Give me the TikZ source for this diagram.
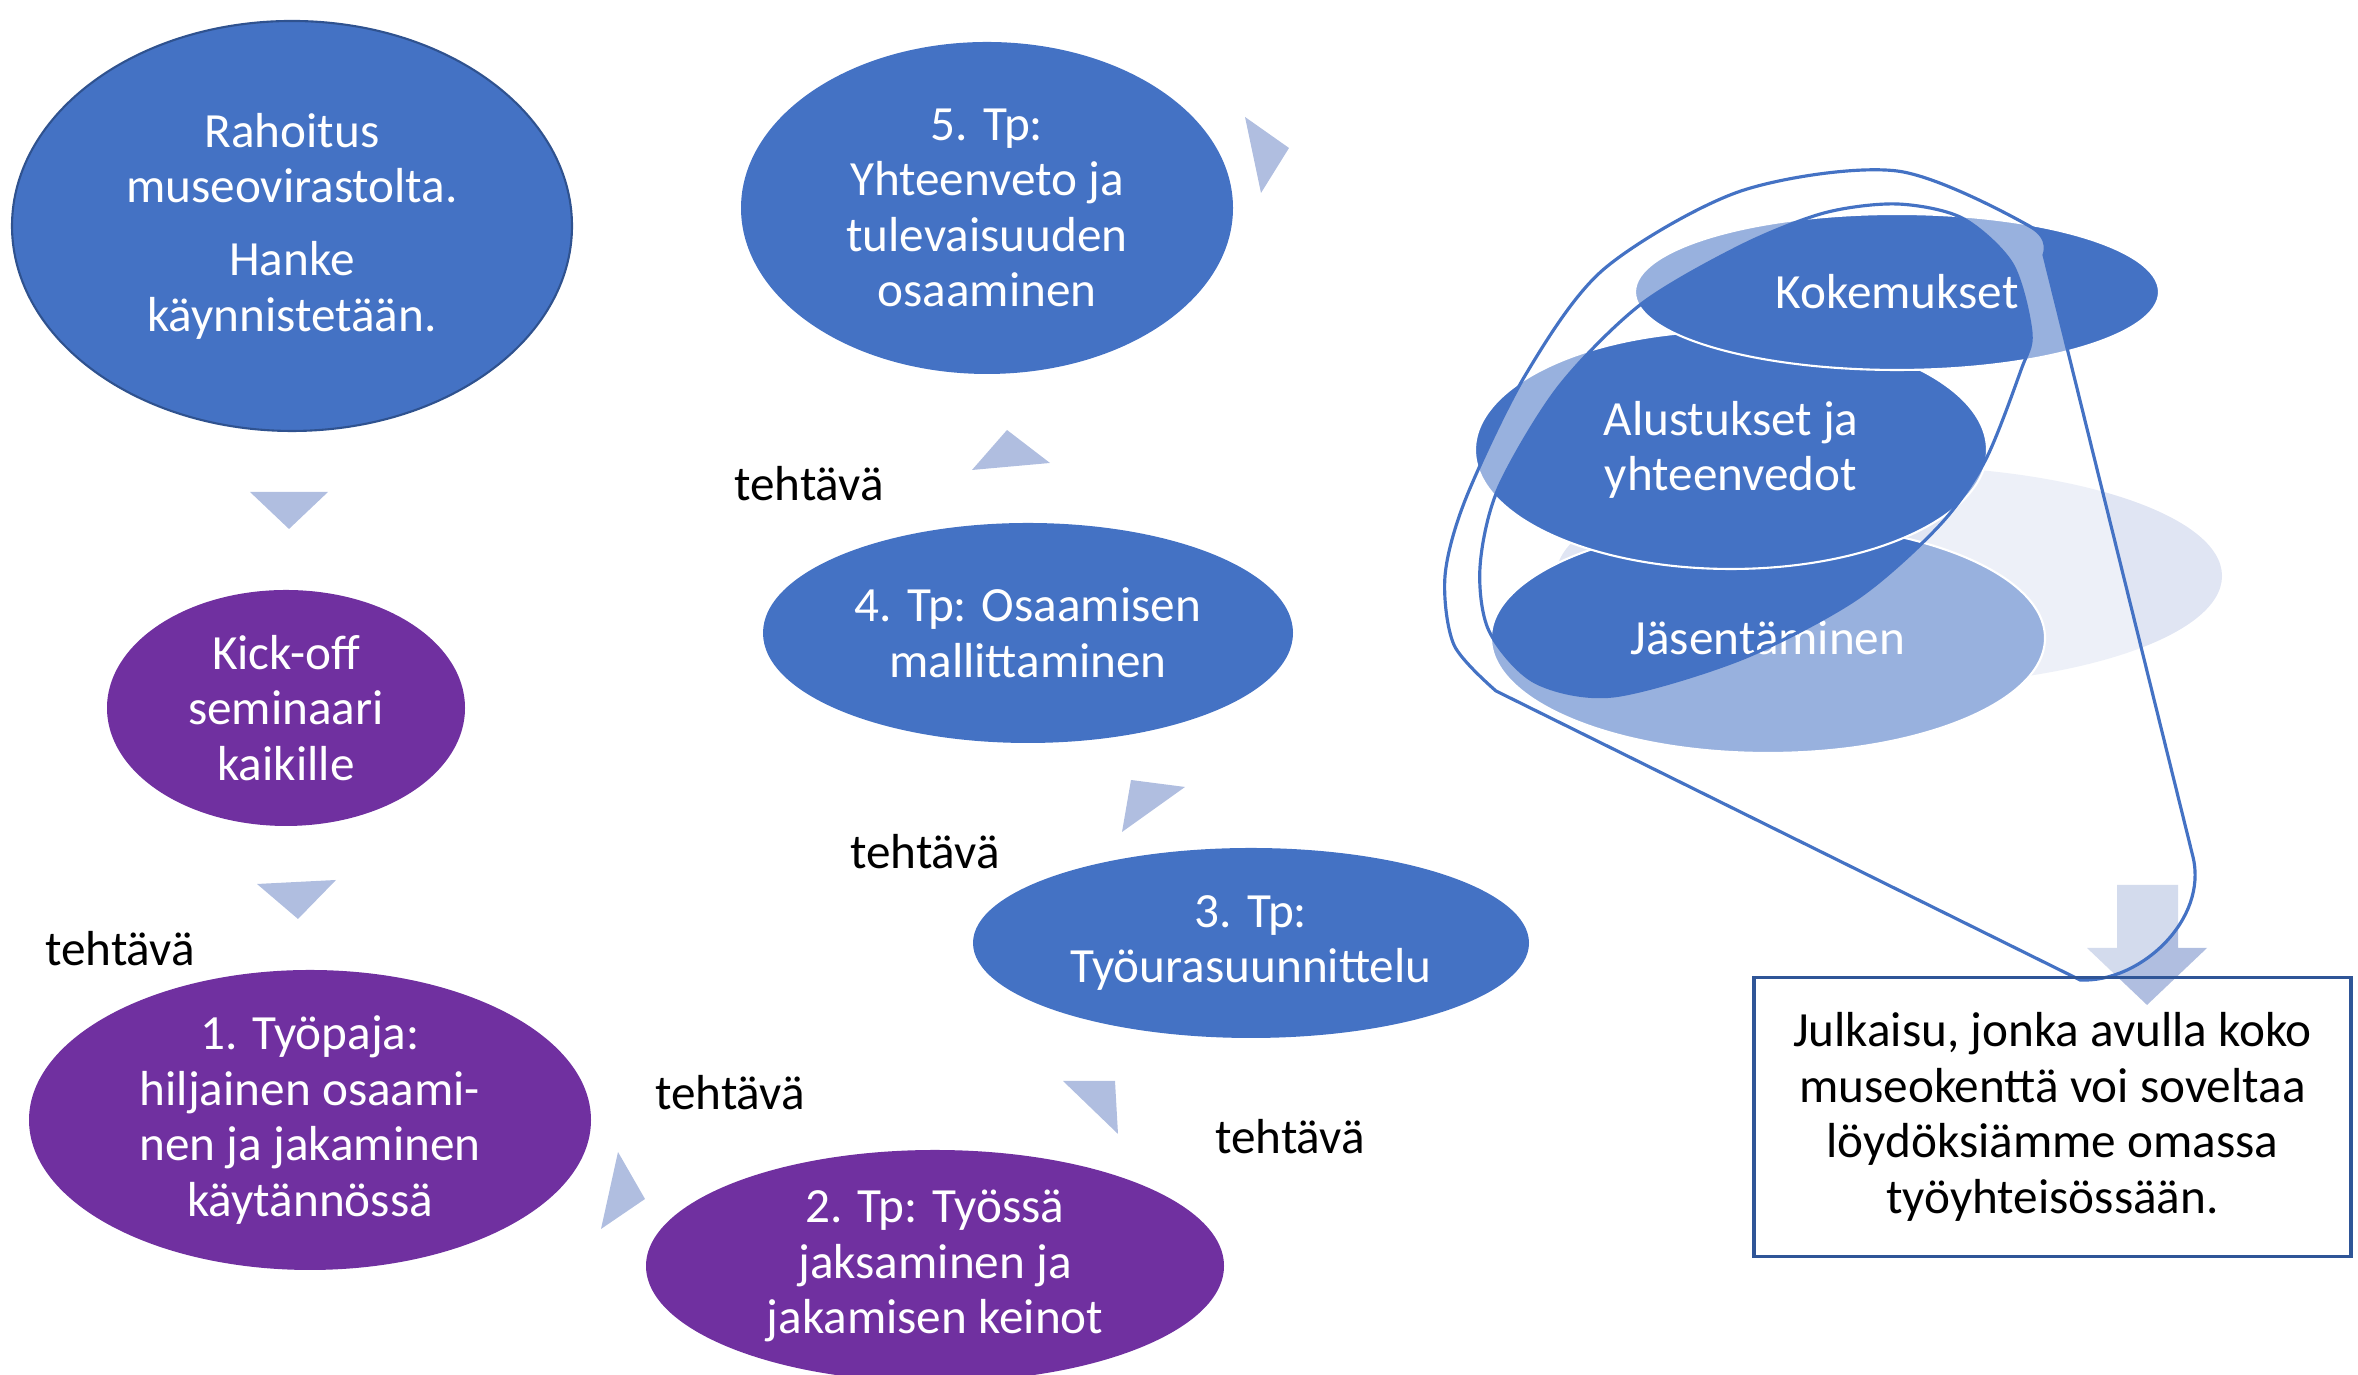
\documentclass[tikz,border=0pt]{standalone}
\usepackage{fontspec}
\setmainfont{Carlito}
\usetikzlibrary{shapes.geometric}
\definecolor{ovalblue}{HTML}{4472C4}
\definecolor{ovalpurple}{HTML}{7030A0}
\definecolor{rimblue}{HTML}{2F528F}
\definecolor{boxblue}{HTML}{2F5597}
\definecolor{trifill}{RGB}{176,190,224}
\definecolor{palefill}{RGB}{224,229,243}
\tikzset{
  every node/.style={
    font=\fontsize{14}{15.8}\selectfont,
    align=center,
    inner sep=0pt
  },
  bluebub/.style={ellipse, fill=ovalblue, text=white},
  purplebub/.style={ellipse, fill=ovalpurple, text=white},
  stackbub/.style={ellipse, fill=ovalblue, draw=white, line width=0.6pt, text=white},
  pointer/.style={fill=trifill},
  tasklbl/.style={text=black}
}

\begin{document}
\begin{tikzpicture}
    \useasboundingbox (0,0) rectangle (23.58,13.75);

    % vaiheet
    \node[bluebub, draw=rimblue, line width=0.6pt, minimum width=5.6cm, minimum height=4.1cm] (fund) at (2.92,11.49) {Rahoitus\\museovirastolta.\\[5pt]Hanke\\käynnistetään.};
    \node[purplebub, minimum width=3.58cm, minimum height=2.36cm] (kick) at (2.86,6.67) {Kick-off\\seminaari\\kaikille};
    \node[purplebub, minimum width=5.62cm, minimum height=3.0cm] (ts1) at (3.10,2.55) {1. Työpaja:\\hiljainen osaami-\\nen ja jakaminen\\käytännössä};
    \node[purplebub, minimum width=5.78cm, minimum height=2.32cm] (ts2) at (9.35,1.09) {2. Tp: Työssä\\jaksaminen ja\\jakamisen keinot};
    \node[bluebub, minimum width=5.56cm, minimum height=1.9cm] (ts3) at (12.51,4.32) {3. Tp:\\Työurasuunnittelu};
    \node[bluebub, minimum width=5.3cm, minimum height=2.2cm] (ts4) at (10.28,7.42) {4. Tp: Osaamisen\\mallittaminen};
    \node[bluebub, minimum width=4.92cm, minimum height=3.32cm] (ts5) at (9.87,11.67) {5. Tp:\\Yhteenveto ja\\tulevaisuuden\\osaaminen};

    % nuolet
    \fill[pointer] (2.50,8.83) -- (3.28,8.83) -- (2.89,8.46) -- cycle;
    \fill[pointer] (2.57,4.91) -- (3.36,4.95) -- (2.98,4.56) -- cycle;
    \fill[pointer] (6.18,2.23) -- (6.45,1.76) -- (6.01,1.46) -- cycle;
    \fill[pointer] (10.63,2.94) -- (11.15,2.94) -- (11.18,2.41) -- cycle;
    \fill[pointer] (11.31,5.95) -- (11.85,5.88) -- (11.22,5.43) -- cycle;
    \fill[pointer] (10.07,9.45) -- (10.50,9.12) -- (9.72,9.05) -- cycle;
    \fill[pointer] (12.45,12.58) -- (12.89,12.27) -- (12.61,11.82) -- cycle;

    % tehtävät
    \node[tasklbl] (task1) at (1.20,4.26) {tehtävä};
    \node[tasklbl] (task2) at (7.30,2.82) {tehtävä};
    \node[tasklbl] (task3) at (12.90,2.38) {tehtävä};
    \node[tasklbl] (task4) at (9.25,5.23) {tehtävä};
    \node[tasklbl] (task5) at (8.09,8.91) {tehtävä};

    % oikea puoli
    \node[ellipse, fill=palefill, minimum width=6.66cm, minimum height=2.2cm] (shade) at (18.89,7.99) {};
    \node[stackbub, minimum width=5.54cm, minimum height=2.3cm] (jase) at (17.68,7.37) {Jäsentäminen};
    \node[stackbub, minimum width=5.12cm, minimum height=2.38cm] (alus) at (17.31,9.25) {Alustukset ja\\yhteenvedot};
    \node[stackbub, minimum width=5.24cm, minimum height=1.56cm] (koke) at (18.97,10.83) {Kokemukset};

    \fill[trifill] (21.17,4.90) -- (21.78,4.90) -- (21.78,4.27) -- (22.07,4.27)
        -- (21.47,3.70) -- (20.87,4.27) -- (21.17,4.27) -- cycle;

    % silmukka
    \path[fill=white, fill opacity=0.45, even odd rule, draw=ovalblue, line width=0.9pt]
        (20.70,4.00) -- plot[smooth] coordinates {(14.96,6.84) (14.54,7.30) (14.45,7.99)
            (14.66,8.77) (15.26,10.01) (16.04,11.06) (17.41,11.84) (18.97,12.04)
            (20.31,11.48) (20.44,11.20)}
        -- (21.93,5.18) .. controls (22.08,4.55) and (21.40,3.92) .. (20.80,3.95) -- cycle
        plot[smooth cycle] coordinates {(18.97,11.71) (19.62,11.57) (20.12,11.11)
            (20.31,10.42) (20.21,10.05) (19.85,9.14) (19.39,8.49) (18.56,7.76)
            (17.41,7.16) (16.13,6.79) (15.35,6.93) (14.89,7.44) (14.80,8.08)
            (14.98,8.86) (15.58,9.87) (16.40,10.70) (17.41,11.29) (18.24,11.62)};

    \node[draw=boxblue, line width=0.9pt, minimum width=5.97cm, minimum height=2.79cm] (pub) at (20.525,2.58)
        {Julkaisu, jonka avulla koko\\museokenttä voi soveltaa\\löydöksiämme omassa\\työyhteisössään.};
\end{tikzpicture}
\end{document}
